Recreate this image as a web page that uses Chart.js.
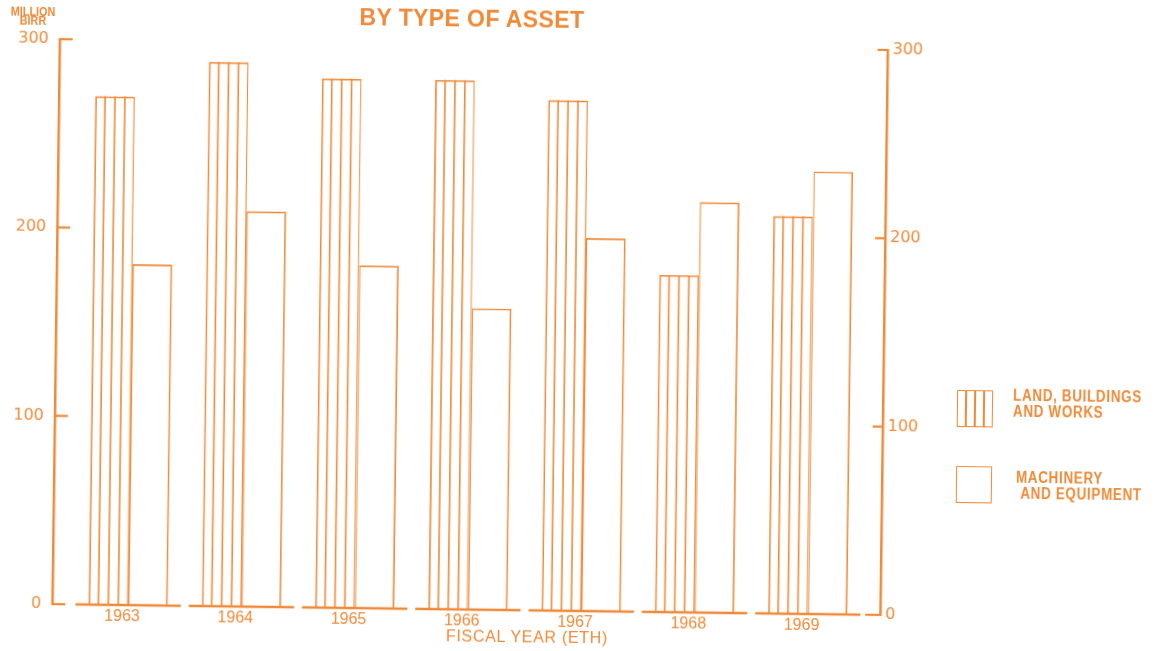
<!DOCTYPE html>
<html>
<head>
<meta charset="utf-8">
<script src="https://cdn.jsdelivr.net/npm/chart.js@4/dist/chart.umd.min.js"></script>
<style>
html,body{margin:0;padding:0;background:#fff;overflow:hidden;width:1162px;height:651px;}
#wrap{position:relative;width:1162px;height:651px;transform:rotate(0.75deg);transform-origin:581px 325px;}
#c{position:absolute;left:0;top:0;}
.t{position:absolute;color:#F08A38;white-space:nowrap;font-family:'Liberation Sans',Arial,sans-serif;}
.box{position:absolute;width:36px;height:37px;border:1.6px solid #F08A38;box-sizing:border-box;}
.hl{position:absolute;top:0;bottom:0;width:1.6px;background:#F08A38;}
.leg{font-weight:bold;font-size:16px;letter-spacing:0.8px;line-height:16px;transform:scaleX(0.84);transform-origin:0 0;}
</style>
</head>
<body>
<div id="wrap">
  <canvas id="c" width="1162" height="651"></canvas>
  <div class="t" style="left:468px;top:8px;transform:translateX(-50%) scaleY(1.05);font-weight:bold;font-size:23px;line-height:24px;letter-spacing:0.4px;">BY TYPE OF ASSET</div>
  <div class="t" style="left:-2px;top:15px;width:62px;text-align:center;font-weight:bold;font-size:12px;line-height:9px;transform:scaleX(0.9);">MILLION<br>BIRR</div>
  <div class="box" style="left:958px;top:385px;"><div class="hl" style="left:7px"></div><div class="hl" style="left:16px"></div><div class="hl" style="left:25px"></div></div>
  <div class="t leg" style="left:1014px;top:382px;">LAND, BUILDINGS<br>AND WORKS</div>
  <div class="box" style="left:958px;top:461px;"></div>
  <div class="t leg" style="left:1018px;top:464px;">MACHINERY<br>&nbsp;AND EQUIPMENT</div>
  <div class="t" style="left:531px;top:629px;transform:translateX(-50%);font-size:16px;line-height:18px;letter-spacing:0.7px;">FISCAL YEAR (ETH)</div>
</div>
<script>
const years = ['1963', '1964', '1965', '1966', '1967', '1968', '1969'];
const landBuildingsWorks = [270, 289, 281, 281, 271, 179, 211];
const machineryEquipment = [181, 210, 182, 160, 198, 218, 235];
const yTicks = [0, 100, 200, 300];

const ORANGE = '#F08A38';

const decor = {
  id: 'decor',
  afterDatasetsDraw(chart) {
    const ctx = chart.ctx;
    const xs = chart.scales.x, ys = chart.scales.y;
    const area = chart.chartArea;
    ctx.save();
    ctx.strokeStyle = ORANGE;
    // hatch lines inside land bars
    ctx.lineWidth = 1.6;
    chart.getDatasetMeta(0).data.forEach(bar => {
      const p = bar.getProps(['x', 'y', 'base', 'width'], true);
      const left = p.x - p.width / 2;
      for (let k = 1; k <= 3; k++) {
        const hx = left + p.width * k / 4;
        ctx.beginPath();
        ctx.moveTo(hx, p.y);
        ctx.lineTo(hx, p.base);
        ctx.stroke();
      }
    });
    // baseline segments per category
    ctx.lineWidth = 2.5;
    const y0 = ys.getPixelForValue(0);
    const step = xs.getPixelForValue(1) - xs.getPixelForValue(0);
    years.forEach((_, i) => {
      const cx = xs.getPixelForValue(i);
      ctx.beginPath();
      ctx.moveTo(cx - step * 0.465, y0);
      ctx.lineTo(cx + step * 0.465, y0);
      ctx.stroke();
    });
    // inward tick marks
    ctx.lineWidth = 2.2;
    yTicks.forEach(v => {
      const y = ys.getPixelForValue(v);
      ctx.beginPath();
      ctx.moveTo(area.left, y);
      ctx.lineTo(area.left + 13, y);
      ctx.stroke();
      const y2 = chart.scales.y2.getPixelForValue(v);
      ctx.beginPath();
      ctx.moveTo(area.right, y2);
      ctx.lineTo(area.right - (v === 0 ? 15 : 10), y2);
      ctx.stroke();
    });
    ctx.restore();
  }
};

const yAxisCommon = {
  min: 0,
  max: 300,
  afterBuildTicks: s => { s.ticks = yTicks.map(v => ({ value: v })); },
  grid: { display: false, drawTicks: false },
  border: { display: true, color: ORANGE, width: 2.5 },
};

new Chart(document.getElementById('c'), {
  type: 'bar',
  data: {
    datasets: [
      {
        label: 'LAND, BUILDINGS AND WORKS',
        data: landBuildingsWorks.map((v, i) => ({ x: i, y: v })),
        backgroundColor: 'rgba(255,255,255,0)',
        borderColor: ORANGE,
        borderWidth: { top: 1.7, left: 1.7, right: 1.2, bottom: 0 },
        borderSkipped: false,
        yAxisID: 'y'
      },
      {
        label: 'MACHINERY AND EQUIPMENT',
        data: machineryEquipment.map((v, i) => ({ x: i, y: v })),
        backgroundColor: 'rgba(255,255,255,0)',
        borderColor: ORANGE,
        borderWidth: { top: 1.7, left: 1.2, right: 1.7, bottom: 0 },
        borderSkipped: false,
        yAxisID: 'y'
      }
    ]
  },
  options: {
    responsive: false,
    animation: false,
    events: [],
    categoryPercentage: 0.7,
    barPercentage: 1.0,
    layout: { padding: { top: 46, left: 0, right: 0, bottom: 0 } },
    plugins: { legend: { display: false }, tooltip: { enabled: false }, title: { display: false } },
    scales: {
      x: {
        type: 'linear',
        min: -0.67,
        max: 6.64,
        offset: false,
        afterBuildTicks: s => { s.ticks = years.map((_, i) => ({ value: i })); },
        grid: { display: false, drawTicks: false },
        border: { display: false },
        ticks: {
          callback: v => years[v] !== undefined ? years[v] : '',
          color: ORANGE,
          font: { family: "'Liberation Sans', Arial, sans-serif", size: 16 },
          padding: 2,
          labelOffset: -6,
          maxRotation: 0,
          autoSkip: false
        },
        afterFit: s => { s.height = 40; }
      },
      y: Object.assign({}, yAxisCommon, {
        position: 'left',
        ticks: { color: ORANGE, font: { family: "'DejaVu Sans', sans-serif", size: 16 }, padding: 11 },
        afterFit: s => { s.width = 56; }
      }),
      y2: Object.assign({}, yAxisCommon, {
        position: 'right',
        ticks: { color: ORANGE, font: { family: "'DejaVu Sans', sans-serif", size: 16 }, padding: 5 },
        afterFit: s => { s.width = 1162 - 884; }
      })
    }
  },
  plugins: [decor]
});
</script>
</body>
</html>
